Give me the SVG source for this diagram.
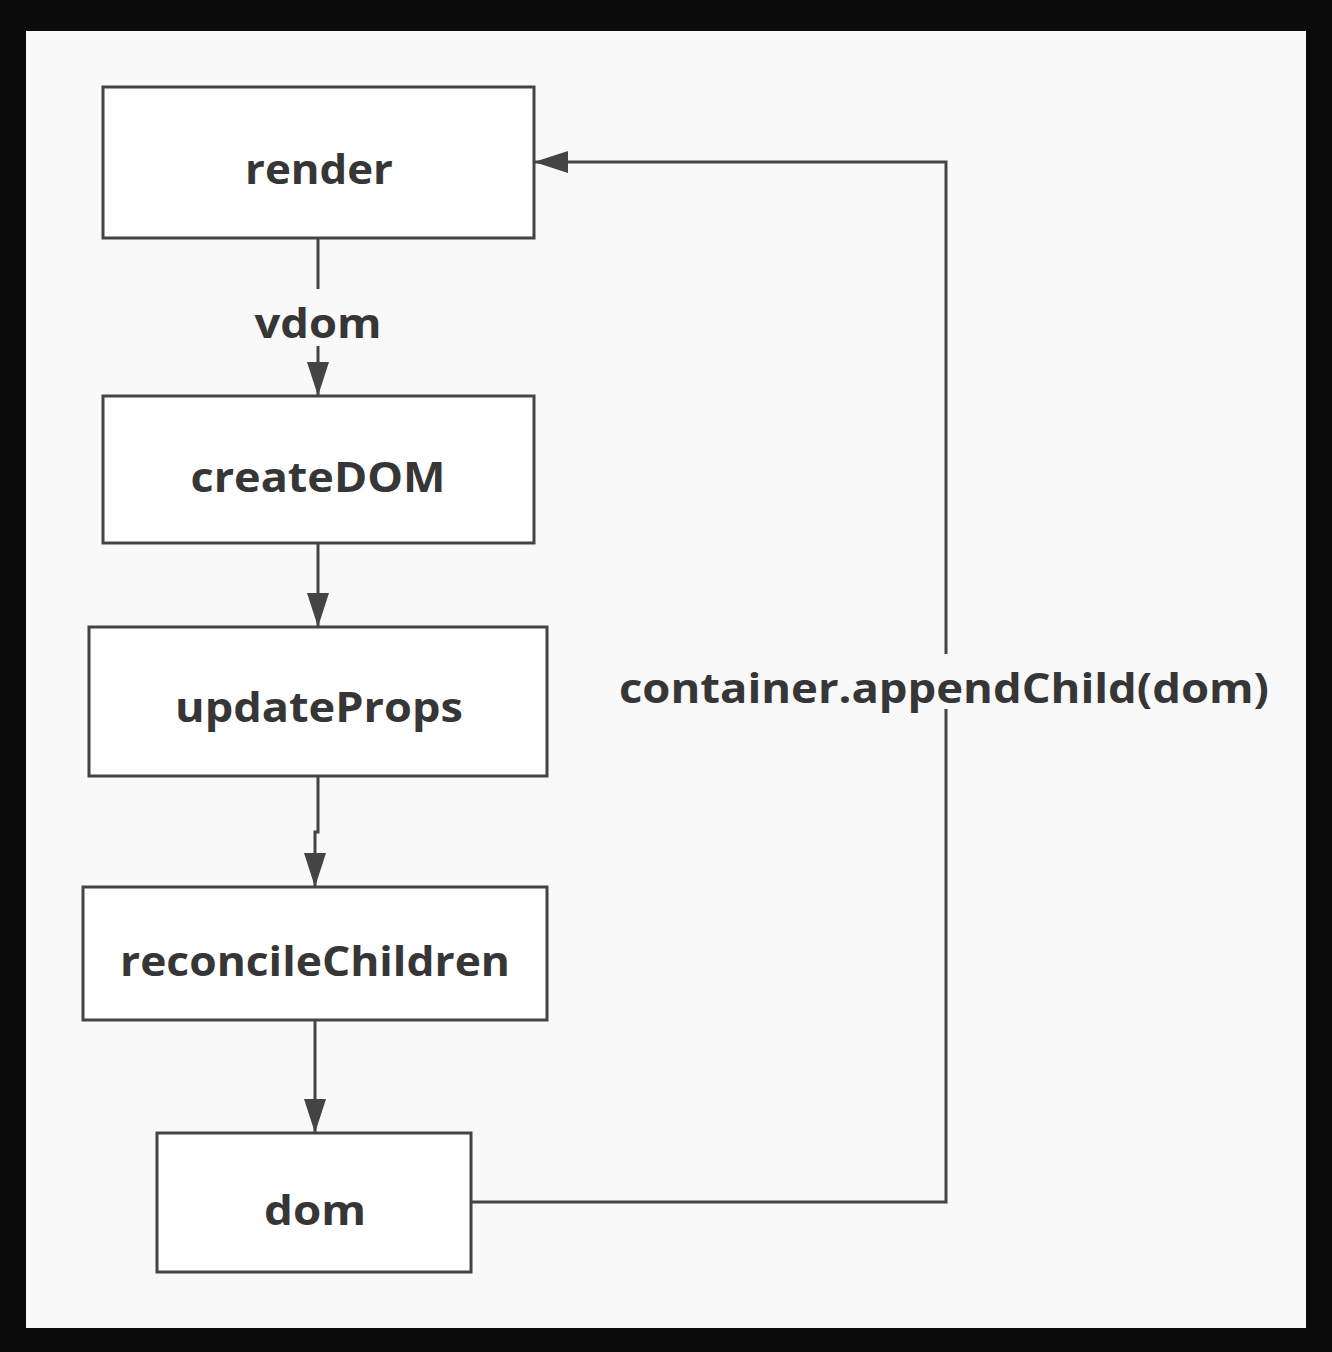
<svg xmlns="http://www.w3.org/2000/svg" width="1332" height="1352" viewBox="0 0 1332 1352">
  <defs>
    <style>
      .node rect { fill: #ffffff; stroke: #444444; stroke-width: 3; }
      .lbl { font-family: "Open Sans", "Noto Sans", "Liberation Sans", sans-serif; font-weight: 700; font-size: 42px; fill: #363636; text-anchor: middle; }
      .edge { fill: none; stroke: #444444; stroke-width: 3; }
      .lblbg { fill: #f9f9f9; }
    </style>
    <marker id="arrow" markerUnits="userSpaceOnUse" markerWidth="36" markerHeight="24" refX="34" refY="12" orient="auto">
      <path d="M0,1 L34,12 L0,23 z" fill="#444444"/>
    </marker>
  </defs>
  <rect x="0" y="0" width="1332" height="1352" fill="#0b0b0b"/>
  <rect x="26" y="31" width="1280" height="1297" fill="#f9f9f9"/>

  <g id="connectors">
    <path class="edge" d="M318,238 V396" marker-end="url(#arrow)"/>
    <path class="edge" d="M318,543 V627" marker-end="url(#arrow)"/>
    <path class="edge" d="M318,776 V832 H315 V887" marker-end="url(#arrow)"/>
    <path class="edge" d="M315,1020 V1133" marker-end="url(#arrow)"/>
    <path class="edge" d="M471,1202 H946 V162 H534" marker-end="url(#arrow)"/>
    <g id="label-vdom">
      <rect class="lblbg" x="248" y="289" width="140" height="57"/>
      <text class="lbl" x="318" y="338" textLength="127" lengthAdjust="spacingAndGlyphs">vdom</text>
    </g>
    <g id="label-append">
      <rect class="lblbg" x="614" y="654" width="660" height="55"/>
      <text class="lbl" x="944" y="703" textLength="650" lengthAdjust="spacingAndGlyphs">container.appendChild(dom)</text>
    </g>
  </g>

  <g id="node-render" class="node">
    <rect x="103" y="87" width="431" height="151"/>
    <text class="lbl" x="319" y="184" textLength="148" lengthAdjust="spacingAndGlyphs">render</text>
  </g>
  <g id="node-createDOM" class="node">
    <rect x="103" y="396" width="431" height="147"/>
    <text class="lbl" x="318" y="492" textLength="255" lengthAdjust="spacingAndGlyphs">createDOM</text>
  </g>
  <g id="node-updateProps" class="node">
    <rect x="89" y="627" width="458" height="149"/>
    <text class="lbl" x="319" y="722" textLength="288" lengthAdjust="spacingAndGlyphs">updateProps</text>
  </g>
  <g id="node-reconcileChildren" class="node">
    <rect x="83" y="887" width="464" height="133"/>
    <text class="lbl" x="315" y="976" textLength="390" lengthAdjust="spacingAndGlyphs">reconcileChildren</text>
  </g>
  <g id="node-dom" class="node">
    <rect x="157" y="1133" width="314" height="139"/>
    <text class="lbl" x="315" y="1225" textLength="102" lengthAdjust="spacingAndGlyphs">dom</text>
  </g>
</svg>
